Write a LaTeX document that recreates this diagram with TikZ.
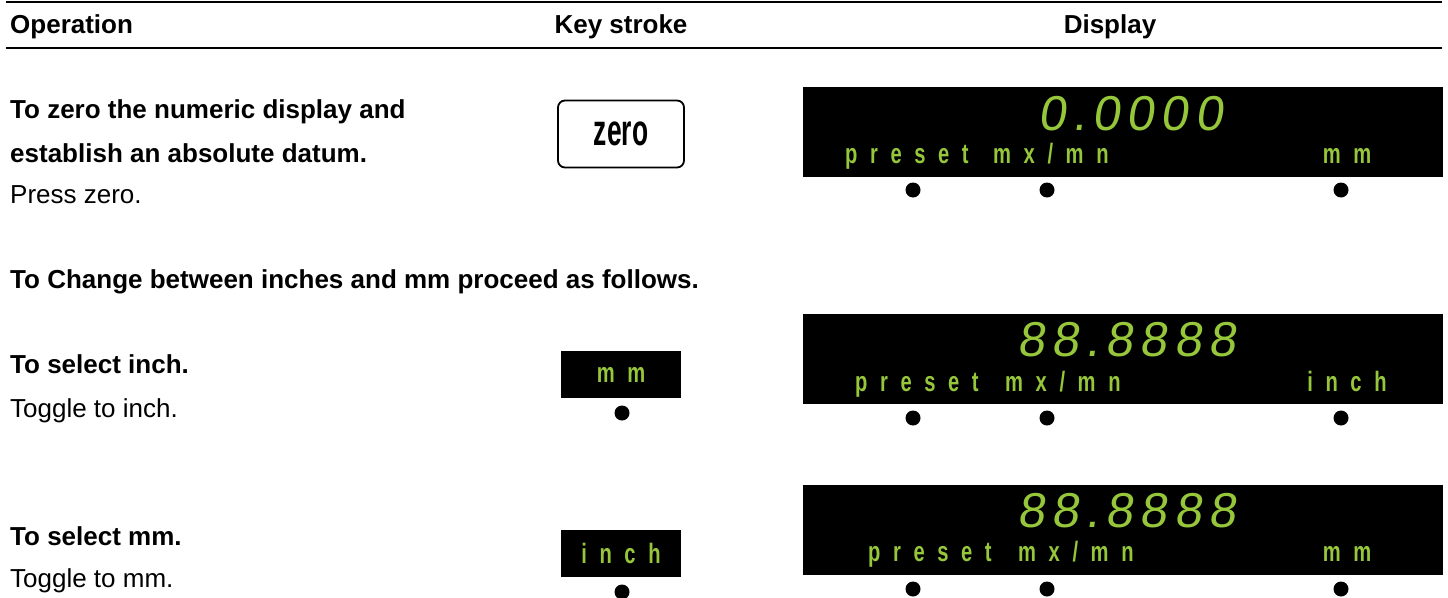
\documentclass[tikz,border=0pt]{standalone}
\usepackage{fontspec}
\setmainfont{Liberation Sans}
\newfontfamily\lcdfont{Liberation Sans}[FakeSlant=0.15,LetterSpace=14]
\newfontfamily\lblfont{Liberation Sans}[FakeStretch=0.72,LetterSpace=45]
\newfontfamily\keyfont{Liberation Sans}[FakeStretch=0.6]
\definecolor{lcdgreen}{RGB}{150,198,58}
\begin{document}
\begin{tikzpicture}[x=1pt,y=-1pt,
  optxt/.style={anchor=base west,inner sep=0pt,font=\fontsize{26}{30}\selectfont},
  opbold/.style={optxt,font=\fontsize{26}{30}\selectfont\bfseries},
  hdr/.style={anchor=base,inner sep=0pt,font=\fontsize{26}{30}\selectfont\bfseries},
  rule/.style={line width=2.6pt},
  dispbox/.style={fill=black,minimum width=640pt,minimum height=90pt,inner sep=0pt,anchor=north west},
  digits/.style={anchor=base west,inner sep=0pt,text=lcdgreen,font=\lcdfont\fontsize{49}{50}\selectfont},
  lbl/.style={anchor=base west,inner sep=0pt,text=lcdgreen,font=\lblfont\bfseries\fontsize{28}{30}\selectfont},
  unitlbl/.style={lbl,anchor=base},
  ledot/.style={circle,fill=black,minimum size=15pt,inner sep=0pt},
  zkey/.style={draw,line width=1.8pt,rounded corners=7pt,minimum width=126pt,minimum height=67pt,inner sep=0pt,font=\keyfont\bfseries\fontsize{44}{44}\selectfont},
  bkey/.style={fill=black,minimum width=120pt,minimum height=47pt,inner sep=0pt,text=lcdgreen,font=\lblfont\bfseries\fontsize{28}{30}\selectfont}
]
\useasboundingbox (0,0) rectangle (1448,597);
\fill[white] (0,0) rectangle (1448,597);

% header
\coordinate (rtl) at (6,2);
\coordinate (rtr) at (1442,2);
\coordinate (rbl) at (6,48);
\coordinate (rbr) at (1442,48);
\draw[rule] (rtl) -- (rtr);
\draw[rule] (rbl) -- (rbr);
\node[opbold] (hop) at (10,33) {Operation};
\node[hdr] (hks) at (621,33) {Key stroke};
\node[hdr] (hdi) at (1110,33) {Display};

% left column
\node[opbold] (t1) at (10,118) {To zero the numeric display and};
\node[opbold] (t2) at (10,162) {establish an absolute datum.};
\node[optxt]  (t3) at (10,203) {Press zero.};
\node[opbold] (t4) at (10,288) {To Change between inches and mm proceed as follows.};
\node[opbold] (t5) at (10,373) {To select inch.};
\node[optxt]  (t6) at (10,417) {Toggle to inch.};
\node[opbold] (t7) at (10,545) {To select mm.};
\node[optxt]  (t8) at (10,587) {Toggle to mm.};

% keys
\node[zkey] (kz) at (621,134) {zero};
\node[bkey] (kmm) at (621,374.5) {mm};
\node[ledot] (kmmd) at (622,413) {};
\node[bkey] (kin) at (621,553.5) {inch};
\node[ledot] (kind) at (622,592) {};

% display 1
\node[dispbox] (d1) at (803,87) {};
\node[digits] (n1) at (1038,130) {0.0000};
\node[lbl] (p1) at (845,163) {preset};
\node[lbl] (m1) at (993,163) {mx/mn};
\node[unitlbl] (u1) at (1347,163) {mm};
\node[ledot] (a1) at (913,190) {};
\node[ledot] (b1) at (1047,190) {};
\node[ledot] (c1) at (1341,190) {};

% display 2
\node[dispbox] (d2) at (803,314) {};
\node[digits] (n2) at (1017,356) {88.8888};
\node[lbl] (p2) at (855,391) {preset};
\node[lbl] (m2) at (1005,391) {mx/mn};
\node[unitlbl] (u2) at (1347,391) {inch};
\node[ledot] (a2) at (913,418) {};
\node[ledot] (b2) at (1047,418) {};
\node[ledot] (c2) at (1341,418) {};

% display 3
\node[dispbox] (d3) at (803,485) {};
\node[digits] (n3) at (1017,527) {88.8888};
\node[lbl] (p3) at (868,561) {preset};
\node[lbl] (m3) at (1018,561) {mx/mn};
\node[unitlbl] (u3) at (1347,561) {mm};
\node[ledot] (a3) at (913,589) {};
\node[ledot] (b3) at (1047,589) {};
\node[ledot] (c3) at (1341,589) {};
\end{tikzpicture}
\end{document}
